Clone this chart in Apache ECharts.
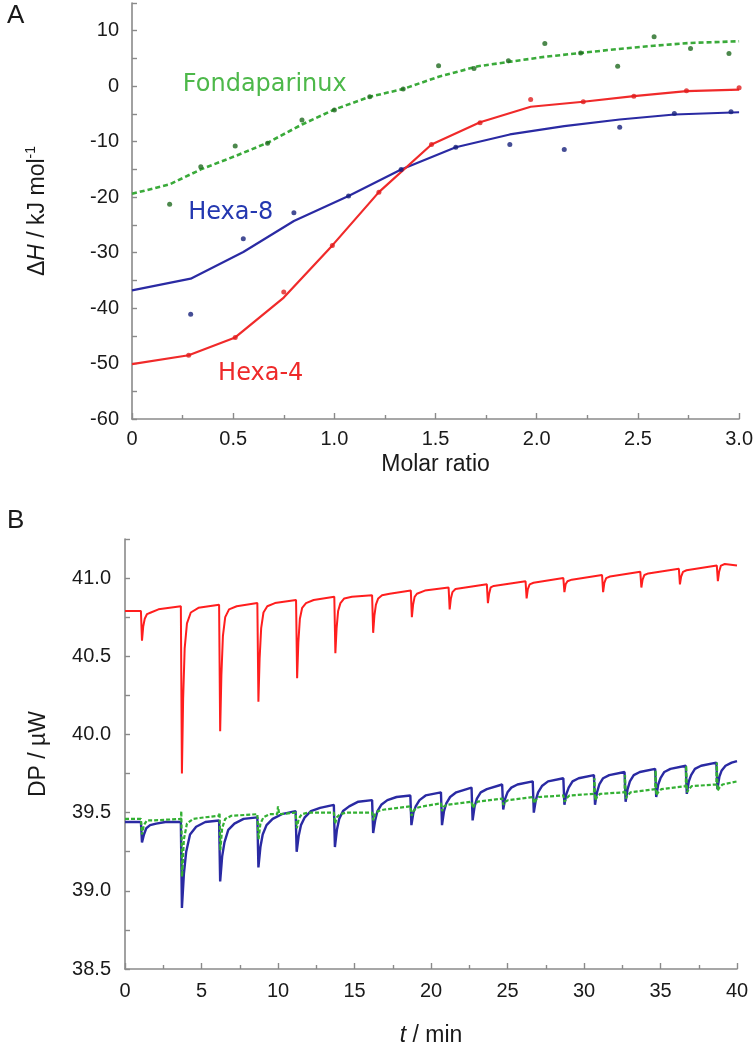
<!DOCTYPE html>
<html>
<head>
<meta charset="utf-8">
<script src="https://cdn.jsdelivr.net/npm/echarts@6.0.0/dist/echarts.min.js"></script>
<style>
  html, body { margin: 0; padding: 0; background: #ffffff; }
  #chart { width: 756px; height: 1050px; }
</style>
</head>
<body>
<div id="chart"></div>
<script>
// ---------------- Panel A data (molar ratio vs ΔH, kJ/mol) ----------------
const fondaPoints = [[0.186,-21.3],[0.34,-14.5],[0.51,-10.8],[0.67,-10.3],[0.84,-6.1],[1.0,-4.3],[1.175,-1.9],[1.34,-0.5],[1.515,3.7],[1.69,3.2],[1.86,4.6],[2.04,7.7],[2.217,6.0],[2.40,3.6],[2.58,8.9],[2.76,6.8],[2.95,5.9]];
const fondaFit = [[0,-19.4],[0.186,-17.7],[0.34,-15.0],[0.51,-12.6],[0.67,-10.2],[0.84,-6.9],[1.0,-4.2],[1.175,-1.9],[1.34,-0.5],[1.515,1.7],[1.71,3.6],[2.04,5.3],[2.22,6.0],[2.40,6.7],[2.58,7.3],[2.76,7.8],[3.0,8.1]];
const hexa8Points = [[0.29,-41.1],[0.55,-27.5],[0.80,-22.8],[1.07,-19.8],[1.33,-15.0],[1.6,-11.0],[1.867,-10.5],[2.136,-11.4],[2.41,-7.4],[2.68,-4.9],[2.96,-4.6]];
const hexa8Fit = [[0,-36.8],[0.29,-34.7],[0.55,-29.9],[0.80,-24.3],[1.07,-19.8],[1.33,-15.0],[1.6,-11.0],[1.867,-8.7],[2.136,-7.2],[2.41,-6.0],[2.68,-5.1],[3.0,-4.7]];
const hexa4Points = [[0.28,-48.5],[0.51,-45.3],[0.75,-37.1],[0.99,-28.7],[1.22,-19.1],[1.48,-10.5],[1.72,-6.6],[1.97,-2.4],[2.23,-2.8],[2.48,-1.8],[2.74,-0.8],[3.0,-0.3]];
const hexa4Fit = [[0,-50.1],[0.28,-48.5],[0.51,-45.3],[0.75,-38.1],[0.99,-28.7],[1.22,-19.1],[1.48,-10.5],[1.72,-6.5],[1.97,-3.7],[2.23,-2.8],[2.48,-1.8],[2.74,-0.9],[3.0,-0.6]];
const curveNames = ['Fondaparinux', 'Hexa-8', 'Hexa-4'];

// ---------------- Panel B data (time, min vs DP, µW) ----------------
const redTrace = [
 [0,40.79],[1.04,40.79],[1.11,40.60],[1.19,40.69],[1.29,40.74],[1.44,40.77],[1.69,40.78],[2.19,40.80],
 [3.65,40.82],[3.72,39.75],[3.80,40.23],[3.90,40.55],[4.05,40.71],[4.30,40.78],[4.80,40.81],
 [6.15,40.83],[6.22,40.02],[6.30,40.38],[6.40,40.63],[6.55,40.75],[6.80,40.80],[7.30,40.82],
 [8.65,40.84],[8.72,40.21],[8.80,40.49],[8.90,40.68],[9.05,40.78],[9.30,40.82],[9.80,40.84],
 [11.18,40.86],[11.25,40.36],[11.33,40.59],[11.43,40.74],[11.58,40.81],[11.83,40.84],[12.33,40.86],
 [13.68,40.88],[13.75,40.52],[13.83,40.68],[13.93,40.79],[14.08,40.84],[14.33,40.87],[14.83,40.88],
 [16.15,40.89],[16.22,40.65],[16.30,40.76],[16.40,40.83],[16.55,40.87],[16.80,40.89],[17.30,40.90],
 [18.68,40.92],[18.75,40.75],[18.83,40.83],[18.93,40.88],[19.08,40.90],[19.60,40.92],
 [21.15,40.94],[21.22,40.80],[21.30,40.87],[21.40,40.91],[21.60,40.93],
 [23.65,40.96],[23.72,40.84],[23.80,40.90],[23.90,40.94],[24.10,40.95],
 [26.18,40.98],[26.25,40.87],[26.33,40.93],[26.45,40.96],[26.70,40.97],
 [28.65,41.00],[28.72,40.91],[28.80,40.96],[28.92,40.98],[29.20,40.99],
 [31.18,41.02],[31.25,40.91],[31.33,40.97],[31.45,41.00],[31.70,41.01],
 [33.68,41.04],[33.75,40.94],[33.83,40.99],[33.95,41.02],[34.20,41.03],
 [36.20,41.06],[36.27,40.96],[36.35,41.01],[36.47,41.04],[36.70,41.05],
 [38.68,41.08],[38.75,40.98],[38.83,41.04],[38.95,41.08],[39.20,41.09],[40,41.08]
];
const blueTrace = [
 [0,39.44],[1.04,39.44],[1.11,39.31],[1.24,39.36],[1.39,39.40],[1.64,39.42],[2.04,39.43],[2.64,39.44],
 [3.65,39.44],[3.72,38.89],[3.85,39.11],[4.00,39.25],[4.25,39.36],[4.65,39.41],[5.25,39.44],
 [6.15,39.45],[6.22,39.06],[6.35,39.22],[6.50,39.31],[6.75,39.39],[7.15,39.43],[7.75,39.46],
 [8.65,39.47],[8.72,39.15],[8.85,39.28],[9.00,39.36],[9.25,39.42],[9.65,39.46],[10.25,39.49],
 [11.15,39.51],[11.22,39.25],[11.35,39.35],[11.50,39.42],[11.75,39.47],[12.15,39.51],[12.75,39.53],
 [13.65,39.55],[13.72,39.28],[13.85,39.39],[14.00,39.46],[14.25,39.51],[14.65,39.54],[15.25,39.57],
 [16.15,39.58],[16.22,39.37],[16.35,39.45],[16.50,39.51],[16.75,39.55],[17.15,39.58],[17.75,39.60],
 [18.65,39.61],[18.72,39.42],[18.85,39.50],[19.00,39.54],[19.25,39.58],[19.65,39.61],
 [20.65,39.63],[20.72,39.42],[20.85,39.51],[21.00,39.56],[21.25,39.60],[21.65,39.63],
 [22.65,39.66],[22.72,39.45],[22.85,39.54],[23.00,39.59],[23.25,39.63],[23.65,39.65],
 [24.65,39.68],[24.72,39.52],[24.85,39.59],[25.00,39.63],[25.25,39.66],[25.65,39.68],
 [26.65,39.70],[26.72,39.50],[26.85,39.58],[27.00,39.63],[27.25,39.67],[27.65,39.70],
 [28.65,39.72],[28.72,39.55],[28.85,39.62],[29.00,39.66],[29.25,39.70],[29.65,39.72],
 [30.65,39.74],[30.72,39.55],[30.85,39.63],[31.00,39.68],[31.25,39.72],[31.65,39.74],
 [32.65,39.76],[32.72,39.57],[32.85,39.65],[33.00,39.70],[33.25,39.74],[33.65,39.76],
 [34.65,39.78],[34.72,39.60],[34.85,39.68],[35.00,39.72],[35.25,39.76],[35.65,39.78],
 [36.65,39.80],[36.72,39.62],[36.85,39.70],[37.00,39.74],[37.25,39.78],[37.65,39.80],
 [38.65,39.82],[38.72,39.65],[38.85,39.73],[39.00,39.77],[39.25,39.80],[39.65,39.82],[40,39.83]
];
const greenTrace = [
 [0,39.46],[1.04,39.46],[1.11,39.36],[1.23,39.42],[1.43,39.45],[1.83,39.45],
 [3.65,39.46],[3.68,39.51],[3.73,39.09],[3.85,39.33],[4.05,39.43],[4.45,39.46],[5.20,39.47],
 [6.15,39.48],[6.18,39.50],[6.23,39.26],[6.35,39.40],[6.55,39.46],[6.95,39.48],
 [8.65,39.49],[8.73,39.33],[8.85,39.43],[9.05,39.47],[9.45,39.49],[9.95,39.49],[10.00,39.54],[10.08,39.49],
 [11.15,39.50],[11.23,39.40],[11.35,39.46],[11.55,39.49],[11.95,39.50],
 [13.65,39.50],[13.73,39.43],[13.85,39.47],[14.05,39.49],[14.45,39.50],
 [16.15,39.50],[16.23,39.45],[16.35,39.49],[16.55,39.51],[16.95,39.52],
 [18.65,39.54],[18.73,39.48],[18.85,39.51],[19.05,39.53],[19.45,39.54],
 [20.65,39.56],[20.73,39.51],[20.85,39.54],[21.05,39.55],
 [22.65,39.57],[22.73,39.53],[22.85,39.55],[23.05,39.57],
 [24.65,39.59],[24.73,39.55],[24.85,39.57],[25.05,39.58],
 [26.65,39.60],[26.73,39.56],[26.85,39.58],[27.05,39.60],
 [28.65,39.61],[28.73,39.57],[28.85,39.59],[29.05,39.61],
 [30.65,39.62],[30.68,39.72],[30.73,39.58],[30.85,39.60],[31.05,39.62],
 [32.65,39.63],[32.68,39.74],[32.73,39.59],[32.85,39.61],[33.05,39.63],
 [34.65,39.65],[34.68,39.77],[34.73,39.61],[34.85,39.63],[35.05,39.65],
 [36.65,39.67],[36.68,39.80],[36.73,39.63],[36.85,39.65],[37.05,39.67],
 [38.65,39.68],[38.68,39.82],[38.73,39.64],[38.85,39.66],[39.05,39.68],[40,39.70]
];

// ---------------- styling constants ----------------
const AX = '#8a8a8a';
const TXT = '#1a1a1a';
const FONT = 'Liberation Sans, Arial, sans-serif';
const NAME_SIZE = 23;
const RED = '#f02a2a', BLUE = '#2a2aa3', GREEN = '#3aaa3a';
const labelPos = { fonda: [0.656, 0.3], hexa8: [0.488, -22.9], hexa4: [0.636, -51.8] };

function axisCommon() {
  return {
    axisLine: { show: true, onZero: false, lineStyle: { color: AX, width: 1.6 } },
    axisTick: { show: true, inside: true, length: 6, lineStyle: { color: AX, width: 1.4 } },
    splitLine: { show: false },
    axisLabel: { color: TXT, fontSize: 20, fontFamily: FONT },
    nameTextStyle: { color: TXT, fontSize: NAME_SIZE, fontFamily: FONT }
  };
}

const chart = echarts.init(document.getElementById('chart'), null, { renderer: 'canvas' });

const option = {
  animation: false,
  backgroundColor: '#ffffff',
  title: [
    { text: 'A', left: 2, top: -2, textStyle: { fontSize: 26, fontWeight: 'normal', fontFamily: FONT, color: TXT } },
    { text: 'B', left: 2, top: 503, textStyle: { fontSize: 26, fontWeight: 'normal', fontFamily: FONT, color: TXT } }
  ],
  grid: [
    { left: 132, right: 16, top: 3, bottom: 631 },
    { left: 125, right: 19, top: 539, bottom: 81 }
  ],
  xAxis: [
    Object.assign(axisCommon(), {
      type: 'value', gridIndex: 0, min: 0, max: 3, interval: 0.5,
      name: 'Molar ratio', nameLocation: 'middle', nameGap: 34,
      minorTick: { show: true, splitNumber: 2, length: 4, lineStyle: { color: AX, width: 1.4 } },
      axisLabel: { color: TXT, fontSize: 20, fontFamily: FONT, margin: 10,
        formatter: v => v === 0 ? '0' : v.toFixed(1) }
    }),
    Object.assign(axisCommon(), {
      type: 'value', gridIndex: 1, min: 0, max: 40, interval: 5,
      name: '{i|t}{n| / min}', nameLocation: 'middle', nameGap: 55,
      minorTick: { show: true, splitNumber: 2, length: 4, lineStyle: { color: AX, width: 1.4 } },
      nameTextStyle: { color: TXT, fontSize: NAME_SIZE, fontFamily: FONT,
        rich: { i: { fontStyle: 'italic', fontSize: NAME_SIZE, fontFamily: FONT, color: TXT },
                n: { fontSize: NAME_SIZE, fontFamily: FONT, color: TXT } } },
      axisLabel: { color: TXT, fontSize: 20, fontFamily: FONT, margin: 12 }
    })
  ],
  yAxis: [
    Object.assign(axisCommon(), {
      type: 'value', gridIndex: 0, min: -60, max: 15, interval: 5,
      name: '{n|Δ}{i|H}{n| / kJ mol}{s|-1}', nameLocation: 'middle', nameGap: 80, nameRotate: 90,
      nameTextStyle: { color: TXT, fontSize: NAME_SIZE, fontFamily: FONT,
        rich: { n: { fontSize: NAME_SIZE, fontFamily: FONT, color: TXT, lineHeight: 28 },
                i: { fontSize: NAME_SIZE, fontFamily: FONT, color: TXT, fontStyle: 'italic', lineHeight: 28 },
                s: { fontSize: 14, fontFamily: FONT, color: TXT, lineHeight: 14, verticalAlign: 'top' } } },
      axisTick: { show: true, inside: true, length: 5, lineStyle: { color: AX, width: 1.4 } },
      axisLabel: { color: TXT, fontSize: 20, fontFamily: FONT, margin: 13,
        formatter: v => (v % 10 === 0 && v <= 10) ? String(v) : '' }
    }),
    Object.assign(axisCommon(), {
      type: 'value', gridIndex: 1, min: 38.5, max: 41.25, interval: 0.25,
      name: 'DP / µW', nameLocation: 'middle', nameGap: 75, nameRotate: 90,
      axisTick: { show: true, inside: true, length: 5, lineStyle: { color: AX, width: 1.4 } },
      axisLabel: { color: TXT, fontSize: 20, fontFamily: FONT, margin: 14,
        formatter: v => (Math.abs((v * 2) - Math.round(v * 2)) < 1e-6 && v <= 41.0) ? v.toFixed(1) : '' }
    })
  ],
  series: [
    { type: 'line', name: curveNames[0] + ' fit', xAxisIndex: 0, yAxisIndex: 0, data: fondaFit,
      symbol: 'none', lineStyle: { color: GREEN, width: 2.6, type: [5, 3] }, z: 2,
      markPoint: { symbol: 'circle', symbolSize: 0, silent: true,
        label: { show: true, position: 'inside', formatter: curveNames[0], color: '#4db84a', fontSize: 24, fontFamily: 'DejaVu Sans' },
        data: [{ coord: labelPos.fonda }] } },
    { type: 'line', name: curveNames[1] + ' fit', xAxisIndex: 0, yAxisIndex: 0, data: hexa8Fit,
      symbol: 'none', lineStyle: { color: BLUE, width: 2.2 }, z: 2,
      markPoint: { symbol: 'circle', symbolSize: 0, silent: true,
        label: { show: true, position: 'inside', formatter: curveNames[1], color: '#2438b0', fontSize: 24, fontFamily: 'DejaVu Sans' },
        data: [{ coord: labelPos.hexa8 }] } },
    { type: 'line', name: curveNames[2] + ' fit', xAxisIndex: 0, yAxisIndex: 0, data: hexa4Fit,
      symbol: 'none', lineStyle: { color: RED, width: 2.2 }, z: 2,
      markPoint: { symbol: 'circle', symbolSize: 0, silent: true,
        label: { show: true, position: 'inside', formatter: curveNames[2], color: '#ee2a2a', fontSize: 24, fontFamily: 'DejaVu Sans' },
        data: [{ coord: labelPos.hexa4 }] } },
    { type: 'scatter', name: curveNames[0], xAxisIndex: 0, yAxisIndex: 0, data: fondaPoints,
      symbolSize: 5, itemStyle: { color: '#1f6a1f' }, z: 3 },
    { type: 'scatter', name: curveNames[1], xAxisIndex: 0, yAxisIndex: 0, data: hexa8Points,
      symbolSize: 5, itemStyle: { color: '#16207a' }, z: 3 },
    { type: 'scatter', name: curveNames[2], xAxisIndex: 0, yAxisIndex: 0, data: hexa4Points,
      symbolSize: 5, itemStyle: { color: '#e01e1e' }, z: 3 },

    { type: 'line', name: curveNames[2] + ' DP', xAxisIndex: 1, yAxisIndex: 1, data: redTrace,
      symbol: 'none', lineStyle: { color: '#ff1e1e', width: 2 }, z: 2 },
    { type: 'line', name: curveNames[1] + ' DP', xAxisIndex: 1, yAxisIndex: 1, data: blueTrace,
      symbol: 'none', lineStyle: { color: BLUE, width: 2.4 }, z: 2 },
    { type: 'line', name: curveNames[0] + ' DP', xAxisIndex: 1, yAxisIndex: 1, data: greenTrace,
      symbol: 'none', lineStyle: { color: '#33b033', width: 2.2, type: [4, 2] }, z: 3 }
  ]
};
chart.setOption(option);
</script>
</body>
</html>
